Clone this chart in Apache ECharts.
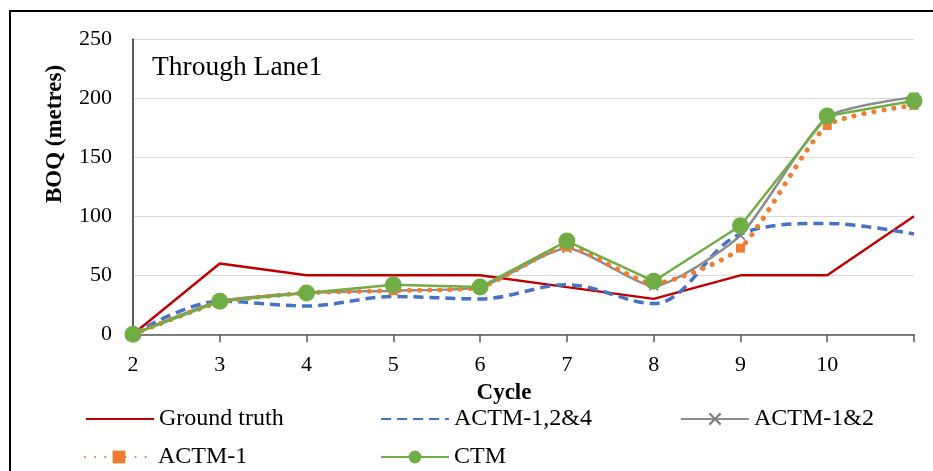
<!DOCTYPE html>
<html>
<head>
<meta charset="utf-8">
<style>
  html, body { margin: 0; padding: 0; background: #fff; }
  #chart { width: 933px; height: 471px; }
</style>
<script src="https://cdn.jsdelivr.net/npm/echarts@6/dist/echarts.min.js"></script>
</head>
<body>
<div id="chart"></div>
<script>
// Back of queue per signal cycle, through lane 1
const cycles = ['2', '3', '4', '5', '6', '7', '8', '9', '10', '11'];
const groundTruth = [0, 60, 50, 50, 50, 40, 30, 50, 50, 100];
const actm124 = [0, 28, 24, 32, 30, 42, 26, 85, 94, 85];
const actm12 = [0, 28, 35, 37, 40, 73, 41, 84, 184, 201];
const actm1 = [0, 27, 35, 37, 40, 74, 43, 73, 177, 194];
const ctm = [0, 28, 35, 42, 40, 79, 45, 92, 185, 198];
const yTicks = { min: 0, max: 250, step: 50 };

const FONT = 'Liberation Serif';
const crossPath = 'path://M0,1.2L1.2,0L5,3.8L8.8,0L10,1.2L6.2,5L10,8.8L8.8,10L5,6.2L1.2,10L0,8.8L3.8,5Z';

const chart = echarts.init(document.getElementById('chart'), null, { renderer: 'canvas' });

// one legend block per entry so each sits at its own spot;
// lines without markers get their legend marker hidden
function legendAt(name, left, top, noMarker) {
  const item = noMarker ? { name: name, itemStyle: { opacity: 0 } } : { name: name };
  return {
    data: [item],
    left: left,
    top: top,
    padding: 0,
    itemWidth: 68,
    itemHeight: 16,
    itemGap: 0,
    selectedMode: false,
    textStyle: { fontFamily: FONT, fontSize: 24, color: '#000' }
  };
}

const option = {
  animation: false,
  backgroundColor: '#fff',
  title: {
    text: 'Through Lane1',
    left: 147,
    top: 49,
    textStyle: { fontFamily: FONT, fontSize: 27.5, fontWeight: 'normal', color: '#000' }
  },
  legend: [
    legendAt('Ground truth', 85, 407, true),
    legendAt('ACTM-1,2&4', 380, 407, true),
    legendAt('ACTM-1&2', 680, 407, false),
    legendAt('ACTM-1', 84, 445, false),
    legendAt('CTM', 380, 445, false)
  ],
  grid: { left: 133, right: 19, top: 39.3, bottom: 136.7, containLabel: false },
  xAxis: {
    type: 'category',
    data: cycles,
    boundaryGap: false,
    name: 'Cycle',
    nameLocation: 'middle',
    nameGap: 42,
    nameTextStyle: { fontFamily: FONT, fontSize: 23, fontWeight: 'bold', color: '#000', padding: [0, 39, 0, 0] },
    axisLine: { lineStyle: { color: '#595959', width: 1.5 } },
    axisTick: { show: true, inside: false, length: 8, alignWithLabel: true, interval: 0, lineStyle: { color: '#595959', width: 1.5 } },
    axisLabel: {
      interval: 0,
      margin: 20,
      fontFamily: FONT,
      fontSize: 22,
      color: '#000',
      formatter: (v, i) => (i === cycles.length - 1 ? '' : v)
    },
    splitLine: { show: false }
  },
  yAxis: {
    type: 'value',
    min: yTicks.min,
    max: yTicks.max,
    interval: yTicks.step,
    axisLine: { show: true, lineStyle: { color: '#262626', width: 1.5 } },
    axisTick: { show: false },
    axisLabel: { margin: 21, fontFamily: FONT, fontSize: 22, color: '#000' },
    splitLine: { lineStyle: { color: '#d9d9d9', width: 1 } }
  },
  graphic: [
    {
      type: 'rect',
      silent: true,
      z: 100,
      shape: { x: 10, y: 11, width: 960, height: 500 },
      style: { fill: 'none', stroke: '#000', lineWidth: 2 }
    },
    {
      type: 'text',
      silent: true,
      x: 55,
      y: 134,
      rotation: Math.PI / 2,
      style: {
        text: 'BOQ (metres)',
        font: 'bold 23px "Liberation Serif"',
        fill: '#000',
        align: 'center',
        verticalAlign: 'middle'
      }
    }
  ],
  series: [
    {
      name: 'Ground truth',
      type: 'line',
      data: groundTruth,
      symbol: 'none',
      lineStyle: { color: '#C00000', width: 2.4 },
      itemStyle: { color: '#C00000' },
      z: 2
    },
    {
      name: 'ACTM-1,2&4',
      type: 'line',
      data: actm124,
      smooth: 0.35,
      symbol: 'none',
      lineStyle: { color: '#4472C4', width: 3.5, type: [10, 6] },
      itemStyle: { color: '#4472C4' },
      z: 3
    },
    {
      name: 'ACTM-1&2',
      type: 'line',
      data: actm12,
      smooth: 0.2,
      symbol: crossPath,
      symbolSize: 10,
      showSymbol: true,
      lineStyle: { color: '#8C8C8C', width: 2.5 },
      itemStyle: { color: '#808080' },
      z: 4
    },
    {
      name: 'ACTM-1',
      type: 'line',
      data: actm1,
      smooth: 0.2,
      symbol: 'rect',
      symbolSize: 9,
      lineStyle: { color: '#ED7D31', width: 5, type: [0.1, 10], cap: 'round' },
      itemStyle: { color: '#ED7D31' },
      z: 5
    },
    {
      name: 'CTM',
      type: 'line',
      data: ctm,
      symbol: 'circle',
      symbolSize: 17,
      lineStyle: { color: '#70AD47', width: 2.5 },
      itemStyle: { color: '#70AD47' },
      z: 6
    }
  ]
};

chart.setOption(option);
</script>
</body>
</html>
